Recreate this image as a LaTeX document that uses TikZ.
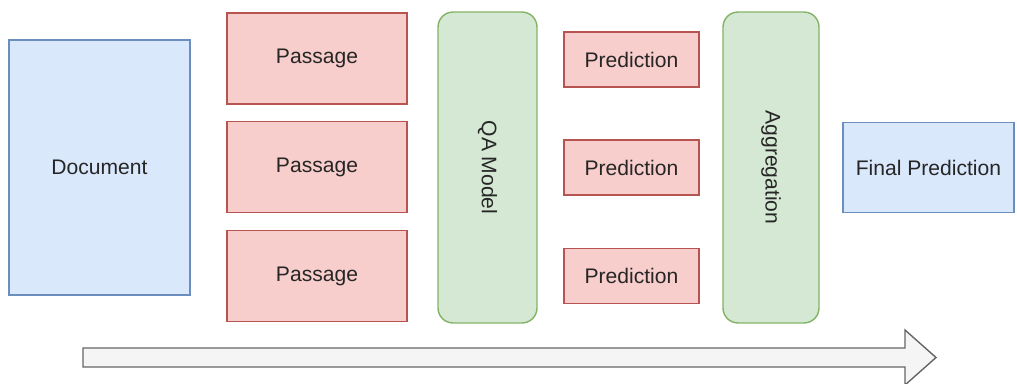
\documentclass[tikz,border=0pt]{standalone}
\usepackage{fontspec}
\setmainfont{Liberation Sans}
\usetikzlibrary{positioning}
\definecolor{bluefill}{HTML}{DAE8FC}
\definecolor{blueline}{HTML}{6C8EBF}
\definecolor{redfill}{HTML}{F8CECC}
\definecolor{redline}{HTML}{B85450}
\definecolor{greenfill}{HTML}{D5E8D4}
\definecolor{greenline}{HTML}{82B366}
\definecolor{grayfill}{HTML}{F5F5F5}
\definecolor{grayline}{HTML}{666666}
\tikzset{every node/.style={font=\fontsize{12}{14}\selectfont,text=black!85},
         docbox/.style={draw=blueline,fill=bluefill,thick},
         passagebox/.style={draw=redline,fill=redfill,thick,minimum width=3.6cm,minimum height=1.82cm},
         predbox/.style={draw=redline,fill=redfill,thick,minimum width=2.7cm,minimum height=1.1cm},
         modelbox/.style={draw=greenline,fill=greenfill,thick,rounded corners=0.3cm,rotate=-90,minimum width=6.22cm}}

\begin{document}
\begin{tikzpicture}[x=0.02cm,y=-0.02cm]
        \useasboundingbox (0,0) rectangle (1017,383);

        \node[docbox, minimum width=3.62cm, minimum height=5.1cm](doc)at(99.5,167.5){Document};

        \node[passagebox](pa1)at(317,58.5){Passage};
        \node[passagebox](pa2)at(317,167){Passage};
        \node[passagebox](pa3)at(317,276){Passage};

        \node[modelbox, minimum height=1.98cm](qa)at(487.5,167.5){QA Model};

        \node[predbox](pr1)at(631.5,59.5){Prediction};
        \node[predbox](pr2)at(631.5,167.5){Prediction};
        \node[predbox](pr3)at(631.5,276){Prediction};

        \node[modelbox, minimum height=1.92cm](agg)at(771,167.5){Aggregation};

        \node[docbox, minimum width=3.42cm, minimum height=1.8cm](final)at(928.5,167.5){Final Prediction};

        % big flow arrow underneath
        \coordinate (tailtop) at (83,348);
        \coordinate (tailbot) at (83,367);
        \coordinate (tip) at (936,357.5);
        \draw[grayline, fill=grayfill, thick]
            (tailtop) -- (905,348) -- (905,330) -- (tip)
            -- (905,385) -- (905,367) -- (tailbot) -- cycle;
    \end{tikzpicture}
\end{document}
